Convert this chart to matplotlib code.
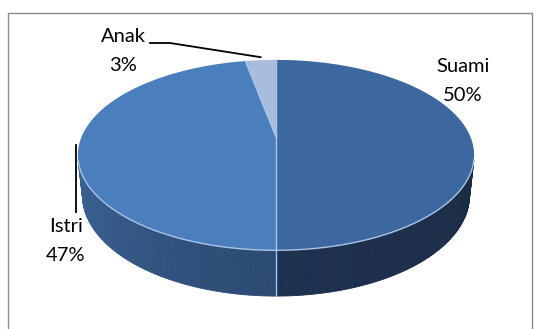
import numpy as np
import matplotlib.pyplot as plt
import matplotlib.colors as mcolors
from matplotlib.collections import PolyCollection

# --------------------------------------------------
# Data
# --------------------------------------------------
labels = ["Suami", "Istri", "Anak"]
values = [50, 47, 3]
pct_text = ["50%", "47%", "3%"]

top_colors = ["#3D689F", "#4A7EBD", "#A8BCDC"]
# side gradient (start, end) along the angle
side_colors = [("#1B2B44", "#1E3150"), ("#2C4A72", "#3A6194"), ("#6F86A8", "#6F86A8")]
edge_light = "#A9C4E6"

# --------------------------------------------------
# Projection (simple perspective camera looking down at the pie)
# --------------------------------------------------
W, H = 537, 329
CX, CY = 276.0, 137.0
K = 923.0
XSCALE = 0.982
L = 4.66
PHI = np.radians(27.6)
S, C = np.sin(PHI), np.cos(PHI)
THICK = 0.232


def project(theta_deg, y=0.0, r=1.0):
    t = np.radians(theta_deg)
    X = r * np.sin(t)
    Z = r * np.cos(t)
    depth = L - y * S + Z * C
    sx = CX + XSCALE * K * X / depth
    sy = CY - K * (y * C + Z * S) / depth
    return sx, sy


fig = plt.figure(figsize=(W / 100, H / 100), dpi=100)
ax = fig.add_axes([0, 0, 1, 1])
ax.set_xlim(0, W)
ax.set_ylim(H, 0)
ax.axis("off")

# chart border
ax.plot([8, 8, 532, 532], [340, 13, 13, 340], color="#8C8C8C", lw=1.0, zorder=1)

# slice angle ranges (clockwise from 12 o'clock)
fracs = np.array(values, dtype=float) / sum(values)
ends = np.cumsum(fracs) * 360
starts = ends - fracs * 360

# visible side range
t_sil = np.degrees(np.arccos(-1.0 / (L * C)))
front_lo, front_hi = t_sil, 360 - t_sil

# --------------------------------------------------
# Side walls
# --------------------------------------------------
for i in range(len(values)):
    a = max(starts[i], front_lo)
    b = min(ends[i], front_hi)
    if b <= a:
        continue
    ts = np.linspace(a, b, 80)
    c0 = np.array(mcolors.to_rgb(side_colors[i][0]))
    c1 = np.array(mcolors.to_rgb(side_colors[i][1]))
    polys, cols = [], []
    for j in range(len(ts) - 1):
        x0, y0 = project(ts[j])
        x1, y1 = project(ts[j + 1])
        x2, y2 = project(ts[j + 1], -THICK)
        x3, y3 = project(ts[j], -THICK)
        polys.append([(x0, y0), (x1, y1), (x2, y2), (x3, y3)])
        f = j / (len(ts) - 2)
        cols.append(c0 + (c1 - c0) * f)
    pc = PolyCollection(polys, facecolors=cols, edgecolors=cols, linewidths=0.6, zorder=2)
    ax.add_collection(pc)

# boundary line on the side wall
for i in range(len(values)):
    if front_lo < starts[i] < front_hi:
        xa, ya = project(starts[i])
        xb, yb = project(starts[i], -THICK)
        ax.plot([xa, xb], [ya, yb], color=edge_light, lw=1.0, zorder=3)

# --------------------------------------------------
# Top surface
# --------------------------------------------------
cx0, cy0 = project(0, r=0.0)
for i in range(len(values)):
    ts = np.linspace(starts[i], ends[i], 200)
    xs, ys = project(ts)
    px = np.concatenate([[cx0], xs, [cx0]])
    py = np.concatenate([[cy0], ys, [cy0]])
    ax.fill(px, py, color=top_colors[i], lw=0, zorder=4)

for i in range(len(values)):
    xa, ya = project(starts[i])
    ax.plot([cx0, xa], [cy0, ya], color=edge_light, lw=1.0, zorder=5)

ts = np.linspace(front_lo, front_hi, 200)
xs, ys = project(ts)
ax.plot(xs, ys, color=edge_light, lw=1.0, zorder=5)

# --------------------------------------------------
# Labels
# --------------------------------------------------
font = dict(family="Lato", fontsize=14.5, color="black", ha="center", va="center",
            linespacing=1.85)
ax.text(463, 81, f"{labels[0]}\n{pct_text[0]}", **font, zorder=6)
ax.text(66, 241, f"{labels[1]}\n{pct_text[1]}", **font, zorder=6)
ax.text(123, 51, f"{labels[2]}\n{pct_text[2]}", **font, zorder=6)

# leader lines
ax_, ay_ = project((starts[2] + ends[2]) / 2, r=1.0)
ax.plot([150, 170, ax_, ], [43, 43, ay_ - 3], color="black", lw=1.3, zorder=6)
ax.plot([76, 76], [145, 212], color="black", lw=1.3, zorder=6)

fig.savefig("out.png", dpi=100)
